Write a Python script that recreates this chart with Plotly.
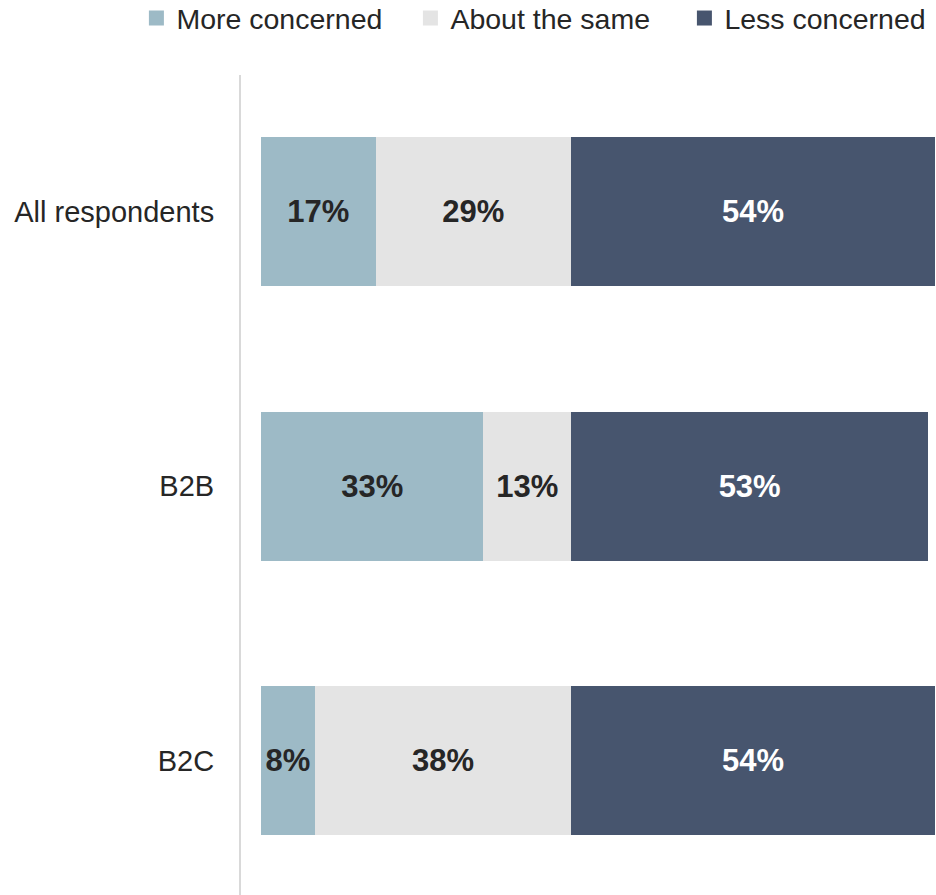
import plotly.graph_objects as go

# Survey groups (top to bottom) and response shares, in percent
groups = ["All respondents", "B2B", "B2C"]
more_concerned = [17, 33, 8]
about_same = [29, 13, 38]
less_concerned = [54, 53, 54]

series = [
    ("More concerned", more_concerned, "#9DBAC6", "#262626"),
    ("About the same", about_same, "#E4E4E4", "#262626"),
    ("Less concerned", less_concerned, "#47556E", "#FFFFFF"),
]

FONT = "Arial, 'Liberation Sans', sans-serif"

fig = go.Figure()
for name, vals, color, txtcolor in series:
    fig.add_trace(go.Bar(
        name=name,
        legendgroup=name,
        showlegend=False,
        y=groups,
        x=vals,
        orientation="h",
        width=0.543,
        marker=dict(color=color, line=dict(width=0)),
        text=[f"{v}%" for v in vals],
        textposition="inside",
        insidetextanchor="middle",
        constraintext="none",
        textfont=dict(family=FONT, size=31, color=txtcolor, weight="bold"),
        hovertemplate="%{y}: %{x}%<extra>" + name + "</extra>",
    ))

# Legend keys: larger square swatches than the default bar icon
for name, _, color, _ in series:
    fig.add_trace(go.Scatter(
        name=name,
        legendgroup=name,
        x=[None],
        y=[None],
        mode="markers",
        marker=dict(symbol="square", size=15, color=color),
        hoverinfo="skip",
    ))

fig.update_layout(
    width=936,
    height=895,
    barmode="stack",
    plot_bgcolor="white",
    paper_bgcolor="white",
    margin=dict(l=241, r=0, t=75, b=0, autoexpand=False),
    font=dict(family=FONT, color="#262626"),
    showlegend=True,
    legend=dict(
        orientation="h",
        traceorder="normal",
        x=-0.1505,
        xanchor="left",
        xref="paper",
        y=1.1,
        yanchor="top",
        yref="paper",
        entrywidth=229,
        entrywidthmode="pixels",
        valign="middle",
        font=dict(family=FONT, size=28.5, color="#262626"),
        itemclick=False,
        itemdoubleclick=False,
    ),
    xaxis=dict(
        range=[-2.97, 100.15],
        showgrid=False,
        zeroline=False,
        showticklabels=False,
        showline=False,
        fixedrange=True,
    ),
    yaxis=dict(
        categoryorder="array",
        categoryarray=groups,
        range=[2.49, -0.498],
        showgrid=False,
        zeroline=False,
        showline=True,
        linecolor="#D9D9D9",
        linewidth=2,
        ticks="",
        ticklabelstandoff=19,
        tickfont=dict(family=FONT, size=29, color="#262626"),
        fixedrange=True,
    ),
)

fig.write_html("out.html")
